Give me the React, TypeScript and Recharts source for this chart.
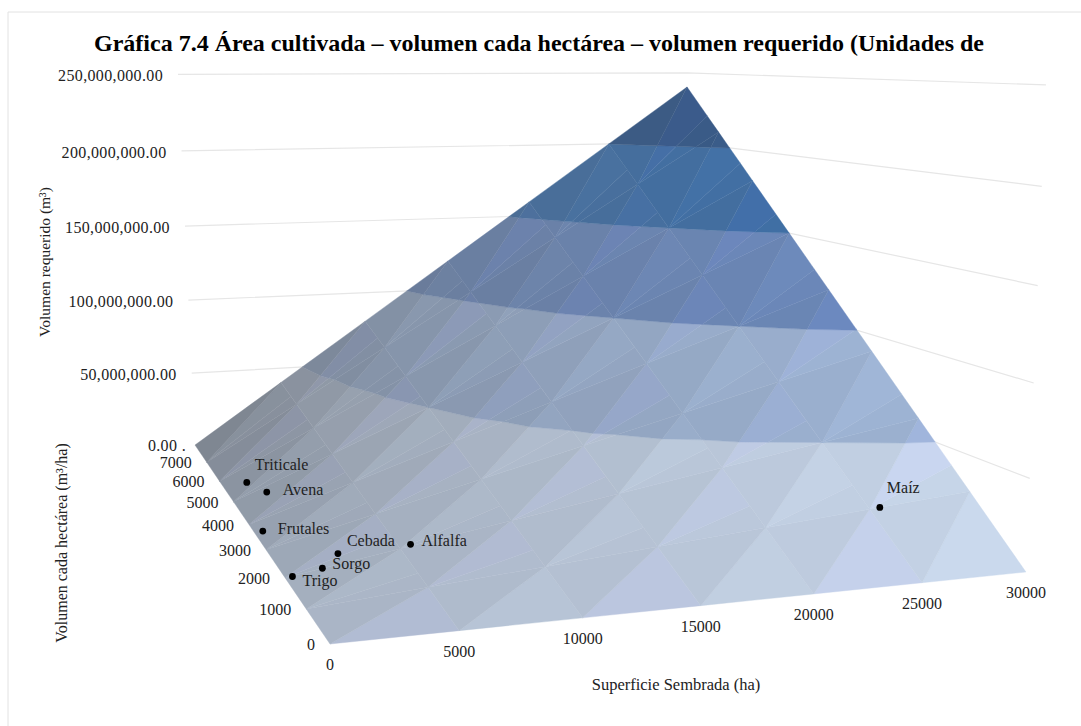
import { ScatterChart, Scatter, XAxis, YAxis } from 'recharts';

const WIDTH = 1081;
const HEIGHT = 726;
const FONT = '"Liberation Serif", serif';

const AREA_TICKS = [0, 5000, 10000, 15000, 20000, 25000, 30000];
const DEPTH_GRID = [0, 1000, 2000, 3000, 4000, 5000, 6000, 7000, 8000];
const DEPTH_TICKS = [0, 1000, 2000, 3000, 4000, 5000, 6000, 7000];
const VOLUME_TICKS = [0, 50000000, 100000000, 150000000, 200000000, 250000000];
const VOLUME_LABELS = ['0.00 .', '50,000,000.00', '100,000,000.00', '150,000,000.00', '200,000,000.00', '250,000,000.00'];

// required volume at each node, one row per volume-per-hectare step
const VOLUME_ROWS = [
  [0, 0, 0, 0, 0, 0, 0],
  [0, 5000000, 10000000, 15000000, 20000000, 25000000, 30000000],
  [0, 10000000, 20000000, 30000000, 40000000, 50000000, 60000000],
  [0, 15000000, 30000000, 45000000, 60000000, 75000000, 90000000],
  [0, 20000000, 40000000, 60000000, 80000000, 100000000, 120000000],
  [0, 25000000, 50000000, 75000000, 100000000, 125000000, 150000000],
  [0, 30000000, 60000000, 90000000, 120000000, 150000000, 180000000],
  [0, 35000000, 70000000, 105000000, 140000000, 175000000, 210000000],
  [0, 40000000, 80000000, 120000000, 160000000, 200000000, 240000000],
];

const CROPS = ['Triticale', 'Avena', 'Frutales', 'Cebada', 'Alfalfa', 'Sorgo', 'Trigo', 'Maíz'];
const CROP_AREA = [1000, 1500, 350, 2550, 5500, 1600, 300, 25500];
const CROP_DEPTH = [5440, 4800, 3620, 2280, 2040, 2000, 1980, 1000];
const CROP_LABEL_OFFSET: Record<string, number[]> = {
  Triticale: [8, -12],
  Avena: [16, 3],
  Frutales: [15, 3],
  Cebada: [9, -8],
  Alfalfa: [11, 2],
  Sorgo: [10, 1],
  Trigo: [10, 10],
  Maíz: [7, -14],
};

const BAND_COLORS = [
  [206, 219, 240],
  [163, 184, 218],
  [110, 139, 190],
  [66, 113, 168],
  [58, 92, 138],
];

// perspective camera for the 3D box, X/Y/Z normalised to 0..1
const project = (area: number, depth: number, volume: number) => {
  const X = area / 30000;
  const Y = depth / 8000;
  const Z = volume / 250000000;
  const w = 1 + 0.14 * X + 0.5 * Y - 0.0556 * Z;
  return {
    u: (330 + 839.6 * X - 37.5 * Y - 35.4 * Z - 8 * X * Y) / w,
    v: (644 + 8.08 * X + 23.5 * Y - 560 * Z) / w,
  };
};

type Node = { a: number; d: number; z: number };

const cut = (poly: Node[], level: number, keepAbove: boolean) => {
  const out: Node[] = [];
  poly.forEach((p, i) => {
    const q = poly[(i + 1) % poly.length];
    const pIn = keepAbove ? p.z >= level : p.z <= level;
    const qIn = keepAbove ? q.z >= level : q.z <= level;
    if (pIn) out.push(p);
    if (pIn !== qIn) {
      const t = (level - p.z) / (q.z - p.z);
      out.push({ a: p.a + t * (q.a - p.a), d: p.d + t * (q.d - p.d), z: level });
    }
  });
  return out;
};

const facetColor = (band: number, poly: Node[], tone: number[]) => {
  const X = poly.reduce((s, p) => s + p.a, 0) / poly.length / 30000;
  const Y = poly.reduce((s, p) => s + p.d, 0) / poly.length / 8000;
  const t = (1 - X) * (0.28 + 0.56 * Y);
  const gray = [110, 115, 125];
  const c = BAND_COLORS[band].map((b, i) => Math.min(255, Math.round((b + (gray[i] - b) * t) * tone[i])));
  return `rgb(${c[0]},${c[1]},${c[2]})`;
};

const UPPER_TONE = [0.962, 0.97, 0.966];

const facets: { fill: string; points: { u: number; v: number }[] }[] = [];
DEPTH_GRID.slice(0, -1).forEach((d, j) => {
  AREA_TICKS.slice(0, -1).forEach((a, i) => {
    const a2 = AREA_TICKS[i + 1];
    const d2 = DEPTH_GRID[j + 1];
    const n00 = { a, d, z: VOLUME_ROWS[j][i] };
    const n10 = { a: a2, d, z: VOLUME_ROWS[j][i + 1] };
    const n11 = { a: a2, d: d2, z: VOLUME_ROWS[j + 1][i + 1] };
    const n01 = { a, d: d2, z: VOLUME_ROWS[j + 1][i] };
    const lowerTone = (i + j) % 2 === 0 ? [0.985, 0.985, 1.01] : [0.99, 1.0, 0.995];
    // thin sliver along the bottom of each lower facet, keeps the row seam soft
    const split = { a: a2, d: d + 350, z: n10.z + 0.35 * (n11.z - n10.z) };
    const pieces =
      j === 0
        ? [{ tri: [n00, n10, n11], tone: lowerTone }]
        : [
            { tri: [n00, n10, split], tone: [0.972, 0.98, 0.978] },
            { tri: [n00, split, n11], tone: lowerTone },
          ];
    [...pieces, { tri: [n00, n11, n01], tone: UPPER_TONE }].forEach(({ tri, tone }) => {
      BAND_COLORS.forEach((_, b) => {
        let poly = cut(tri, VOLUME_TICKS[b], true);
        if (poly.length) poly = cut(poly, VOLUME_TICKS[b + 1], false);
        if (poly.length < 3) return;
        facets.push({
          fill: facetColor(b, poly, tone),
          points: poly.map((n) => project(n.a, n.d, n.z)),
        });
      });
    });
  });
});

const wallLines = VOLUME_TICKS.slice(1).map((z) => [
  project(0, 8000, z),
  project(30000, 8000, z),
  project(30000, 0, z),
]);

const noDot = () => <g />;

const FacetShape = (props: any) => {
  const pts = props.points.map((p: any) => `${p.x},${p.y}`).join(' ');
  return <polygon points={pts} fill={props.facetFill} stroke={props.facetFill} strokeWidth={0.4} />;
};

const labelShape = (text: string, dx: number, dy: number, anchor: string, spacing = 0) => (props: any) => (
  <text
    x={props.cx + dx}
    y={props.cy + dy}
    textAnchor={anchor}
    fontFamily={FONT}
    fontSize={16}
    letterSpacing={spacing}
    fill="#222"
  >
    {text}
  </text>
);

export default function App() {
  return (
    <div style={{ position: 'absolute', left: 0, top: 0, width: WIDTH, height: HEIGHT, background: '#fff' }}>
      <ScatterChart width={WIDTH} height={HEIGHT} margin={{ top: 0, right: 0, bottom: 0, left: 0 }}>
        <XAxis type="number" dataKey="u" domain={[0, WIDTH]} hide />
        <YAxis type="number" dataKey="v" domain={[0, HEIGHT]} reversed hide />

        {wallLines.map((pts, i) => (
          <Scatter
            key={`wall-${i}`}
            data={pts}
            line={{ stroke: '#e6e6e6', strokeWidth: 1.2 }}
            shape={noDot}
            isAnimationActive={false}
          />
        ))}

        {facets.map((f, i) => (
          <Scatter
            key={`facet-${i}`}
            data={f.points}
            line={(p: any) => <FacetShape {...p} facetFill={f.fill} />}
            shape={noDot}
            isAnimationActive={false}
          />
        ))}

        {AREA_TICKS.map((a) => (
          <Scatter
            key={`area-${a}`}
            data={[project(a, 0, 0)]}
            shape={labelShape(String(a), 0, 26, 'middle')}
            isAnimationActive={false}
          />
        ))}
        {DEPTH_TICKS.map((d) => (
          <Scatter
            key={`depth-${d}`}
            data={[project(0, d, 0)]}
            shape={labelShape(String(d), -15, 6, 'end')}
            isAnimationActive={false}
          />
        ))}
        {VOLUME_TICKS.map((z, i) => (
          <Scatter
            key={`vol-${z}`}
            data={[project(0, 8000, z)]}
            shape={labelShape(VOLUME_LABELS[i], i === 0 ? -9 : -15, i === 0 ? 6 : 7, 'end', 0.35)}
            isAnimationActive={false}
          />
        ))}

        {CROPS.map((name, i) => (
          <Scatter
            key={name}
            data={[project(CROP_AREA[i], CROP_DEPTH[i], CROP_AREA[i] * CROP_DEPTH[i])]}
            shape={(p: any) => (
              <g>
                <circle cx={p.cx} cy={p.cy} r={3.4} fill="#000" />
                <text
                  x={p.cx + CROP_LABEL_OFFSET[name][0]}
                  y={p.cy + CROP_LABEL_OFFSET[name][1]}
                  fontFamily={FONT}
                  fontSize={16}
                  fill="#222"
                >
                  {name}
                </text>
              </g>
            )}
            isAnimationActive={false}
          />
        ))}

        <line x1={8} y1={12} x2={WIDTH} y2={12} stroke="#e2e2e2" />
        <line x1={8} y1={12} x2={8} y2={HEIGHT} stroke="#e2e2e2" />
        <text x={539} y={51} textAnchor="middle" fontFamily={FONT} fontSize={24} fontWeight="bold" fill="#000">
          Gráfica 7.4 Área cultivada – volumen cada hectárea – volumen requerido (Unidades de
        </text>
        <text x={676} y={690} textAnchor="middle" fontFamily={FONT} fontSize={16.5} fill="#222">
          Superficie Sembrada (ha)
        </text>
        <text transform="translate(50,262) rotate(-90)" textAnchor="middle" fontFamily={FONT} fontSize={15.5} fill="#222">
          Volumen requerido (m³)
        </text>
        <text transform="translate(67,543) rotate(-90)" textAnchor="middle" fontFamily={FONT} fontSize={16} fill="#222">
          Volumen cada hectárea (m³/ha)
        </text>
      </ScatterChart>
    </div>
  );
}
